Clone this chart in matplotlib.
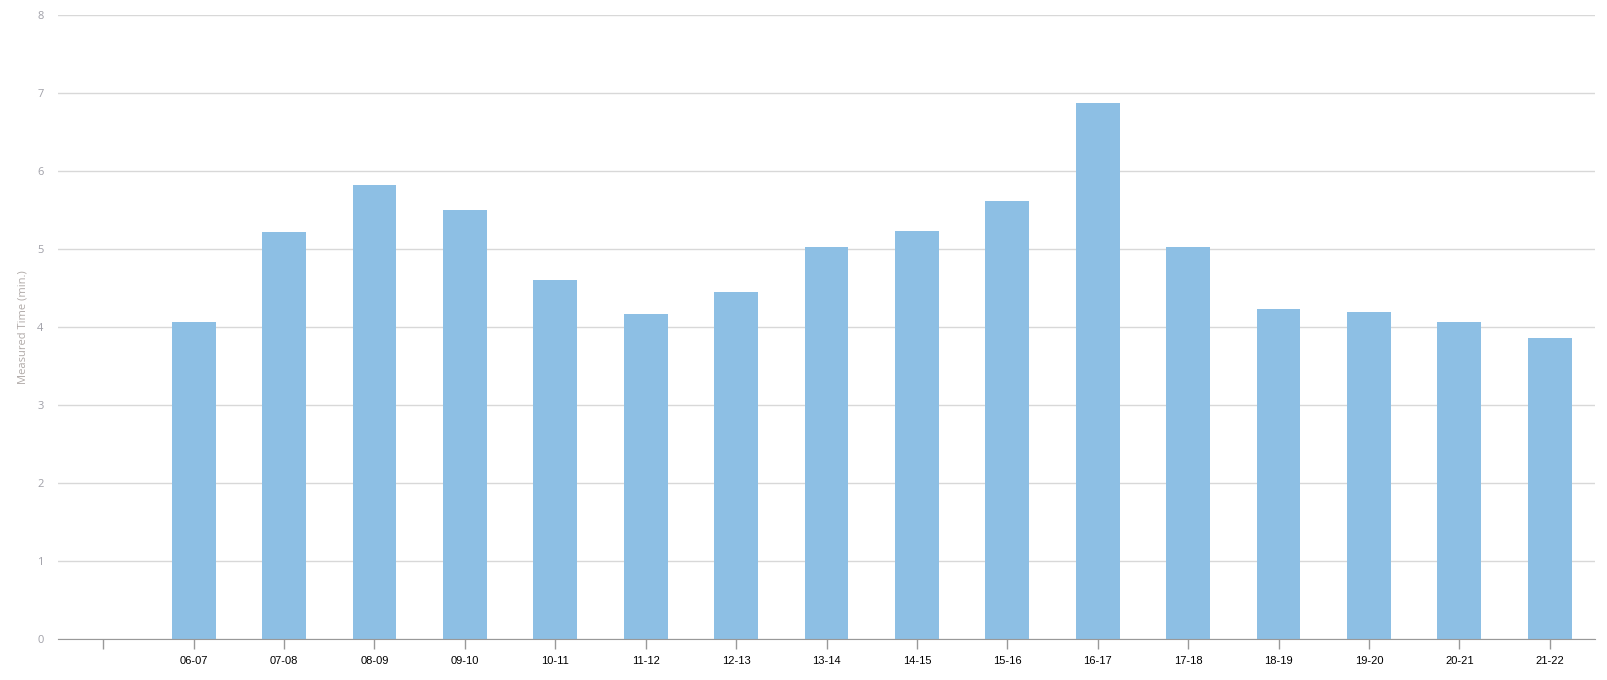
import matplotlib
matplotlib.use("Agg")
import matplotlib.pyplot as plt
import numpy as np

# first slot on the axis is empty in the original chart
categories = ["", "06-07", "07-08", "08-09", "09-10", "10-11", "11-12", "12-13", "13-14",
              "14-15", "15-16", "16-17", "17-18", "18-19", "19-20", "20-21", "21-22"]
times = [np.nan, 4.07, 5.22, 5.82, 5.50, 4.61, 4.17, 4.45, 5.03,
         5.24, 5.62, 6.87, 5.03, 4.24, 4.20, 4.07, 3.86]
y_ticks = [0, 1, 2, 3, 4, 5, 6, 7, 8]

fig = plt.figure(figsize=(16.08, 6.80), dpi=100)
ax = fig.add_axes([0.0361, 0.0598, 0.9558, 0.9177])

x = np.arange(len(categories))
ax.bar(x, times, width=0.485, color="#8dbfe4", linewidth=0, zorder=2)

ax.set_xlim(-0.5, len(categories) - 0.5)
ax.set_ylim(0, 8)
ax.set_yticks(y_ticks)
ax.set_xticks(x)
ax.set_xticklabels(categories, fontsize=8, color="black", family="Liberation Sans")
ax.tick_params(axis="x", length=7, width=1, color="#999999", pad=5)
ax.tick_params(axis="y", length=0, pad=10.5, labelsize=8, labelcolor="#a0a0a8")
for lab in ax.get_yticklabels():
    lab.set_family("Open Sans")

ax.grid(axis="y", color="#d8d8d8", linewidth=1, zorder=0)
for side in ["top", "right", "left"]:
    ax.spines[side].set_visible(False)
ax.spines["bottom"].set_color("#999999")
ax.spines["bottom"].set_zorder(3)

ax.set_ylabel("Measured Time (min.)", fontsize=8, color="#b0aaa8", family="Open Sans")
ax.yaxis.set_label_coords(-0.0195, 0.5)

plt.savefig("out.png", dpi=100)
